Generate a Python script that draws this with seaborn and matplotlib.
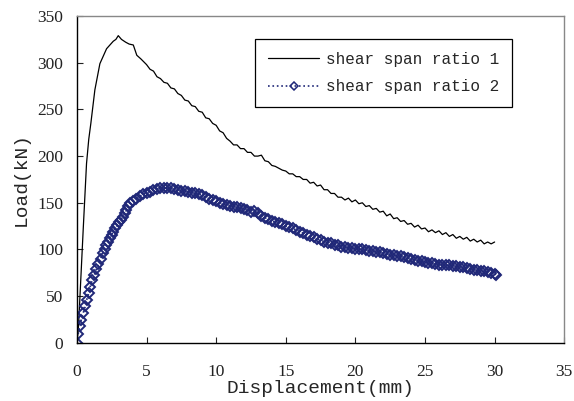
import pandas as pd
import seaborn as sns
from matplotlib import pyplot as plt

# shear span ratio 1 (black solid)
disp_1 = [0, 0.1, 0.22, 0.45, 0.69, 0.85, 1.0, 1.29, 1.65, 2.13, 2.61, 2.8, 2.97, 3.2, 3.5, 3.75,
          4.05, 4.3, 4.6,
          5.0, 5.25, 5.5, 5.75, 6.0, 6.25, 6.5, 6.75, 7.0, 7.25, 7.5, 7.75, 8.0, 8.25, 8.5, 8.75,
          9.0, 9.25, 9.5, 9.75, 10.0, 10.25, 10.5, 10.75, 11.0, 11.25, 11.5, 11.75, 12.0, 12.25,
          12.5, 12.75, 13.0, 13.25, 13.5, 13.75, 14.0, 14.25, 14.5, 14.75, 15.0, 15.25, 15.5, 15.75,
          16.0, 16.25, 16.5, 16.75, 17.0, 17.25, 17.5, 17.75, 18.0, 18.25, 18.5, 18.75, 19.0, 19.25,
          19.5, 19.75, 20.0, 20.25, 20.5, 20.75, 21.0, 21.25, 21.5, 21.75, 22.0, 22.25, 22.5, 22.75,
          23.0, 23.25, 23.5, 23.75, 24.0, 24.25, 24.5, 24.75, 25.0, 25.25, 25.5, 25.75, 26.0, 26.25,
          26.5, 26.75, 27.0, 27.25, 27.5, 27.75, 28.0, 28.25, 28.5, 28.75, 29.0, 29.25, 29.5, 29.75,
          30.0]
load_1 = [0, 14, 50, 121, 192, 218, 235, 271, 299, 315, 323, 325, 329, 325, 322, 320,
          319, 308, 304,
          298, 293, 291, 285, 283, 279, 278, 273, 272, 267, 265, 260, 259, 254, 253, 248,
          247, 241, 240, 235, 233, 227, 225, 219, 216, 212, 212, 208, 208, 204,
          204, 200, 200, 201, 195, 194, 190, 189, 187, 185, 184, 181, 181, 178,
          178, 175, 175, 171, 172, 168, 169, 164, 164, 160, 160, 156, 156, 153,
          155, 151, 153, 149, 150, 146, 147, 143, 144, 140, 141, 136, 138, 133,
          134, 130, 131, 127, 128, 124, 126, 122, 123, 119, 121, 118, 120, 116,
          118, 114, 116, 112, 114, 111, 113, 109, 111, 108, 110, 106, 108, 106,
          108]

# shear span ratio 2 (navy dotted with diamonds)
disp_2 = [0, 0.1, 0.2, 0.3, 0.45, 0.6, 0.7, 0.85, 0.95, 1.1, 1.25, 1.4, 1.55, 1.7, 1.85, 2.0,
          2.1, 2.2, 2.35, 2.5, 2.6, 2.75, 2.9, 3.0, 3.15, 3.3, 3.45, 3.55, 3.65, 3.8,
          4.0, 4.25, 4.5, 4.75, 5.0, 5.25, 5.5, 5.75, 6.0, 6.25, 6.5, 6.75, 7.0, 7.25, 7.5, 7.75,
          8.0, 8.25, 8.5, 8.75, 9.0, 9.25, 9.5, 9.75, 10.0, 10.25, 10.5, 10.75, 11.0, 11.25, 11.5,
          11.75, 12.0, 12.25, 12.5, 12.75, 13.0, 13.25, 13.5, 13.75, 14.0, 14.25, 14.5, 14.75,
          15.0, 15.25, 15.5, 15.75, 16.0, 16.25, 16.5, 16.75, 17.0, 17.25, 17.5, 17.75, 18.0,
          18.25, 18.5, 18.75, 19.0, 19.25, 19.5, 19.75, 20.0, 20.25, 20.5, 20.75, 21.0, 21.25,
          21.5, 21.75, 22.0, 22.25, 22.5, 22.75, 23.0, 23.25, 23.5, 23.75, 24.0, 24.25, 24.5,
          24.75, 25.0, 25.25, 25.5, 25.75, 26.0, 26.25, 26.5, 26.75, 27.0, 27.25, 27.5, 27.75,
          28.0, 28.25, 28.5, 28.75, 29.0, 29.25, 29.5, 29.75, 30.0, 30.1]
load_2 = [0, 10, 18, 24, 32, 39, 46, 53, 60, 67, 73, 79, 84, 90, 96, 101,
          105, 108, 112, 116, 119, 123, 126, 129, 132, 135, 139, 142, 147, 150,
          152, 154, 157, 159, 161, 162, 163.5, 165, 166, 166, 166, 165.5, 165, 164, 163, 162.5,
          162, 161, 160, 159, 158, 156, 154.5, 153, 151.5, 150, 149, 148, 147, 146, 145,
          144, 143, 142, 140, 141, 139, 136, 134, 132.5, 131, 129.5, 128, 127,
          125, 124, 122.5, 121, 119, 117.5, 116, 114, 113, 111, 110, 108.5, 107,
          106.5, 105, 104.5, 103, 103, 102, 101.5, 101, 101, 100, 99, 98.5, 98.5,
          97.5, 97, 96, 95.5, 94.5, 94, 93, 92.5, 91.5, 90.5, 90, 89, 88,
          87.5, 86.5, 85.5, 85, 84, 83.5, 83.5, 83, 83, 82.5, 82, 81.5, 81,
          80, 79.5, 78.5, 78, 77, 76.5, 75.5, 75, 74, 73]

x_ticks = [0, 5, 10, 15, 20, 25, 30, 35]
y_ticks = [0, 50, 100, 150, 200, 250, 300, 350]

NAVY = "#202878"


def main():
    sns.set_style("ticks")
    plt.rcParams["font.family"] = ["Liberation Serif", "DejaVu Serif"]

    df1 = pd.DataFrame({"Displacement": disp_1, "Load": load_1})
    df2 = pd.DataFrame({"Displacement": disp_2, "Load": load_2})

    fig, ax = plt.subplots(figsize=(5.74, 4.01), dpi=100)
    fig.subplots_adjust(left=0.134, right=0.983, bottom=0.145, top=0.960)

    sns.lineplot(df1, x="Displacement", y="Load", color="black", linewidth=0.9,
                 label="shear span ratio 1", ax=ax, sort=False)
    sns.lineplot(df2, x="Displacement", y="Load", color=NAVY, linewidth=1.2, linestyle=":",
                 marker="D", markersize=5.5, markerfacecolor="none", markeredgecolor=NAVY,
                 markeredgewidth=1.4, label="shear span ratio 2", ax=ax, sort=False)

    ax.set_xlim(0, 35)
    ax.set_ylim(0, 350)
    ax.set_xticks(x_ticks)
    ax.set_yticks(y_ticks)
    ax.tick_params(direction="in", length=4, labelsize=12.5, colors="#222222")
    ax.tick_params(axis="x", pad=15)
    ax.tick_params(axis="y", pad=10)

    for side in ["top", "right"]:
        ax.spines[side].set_color("#888888")
    for side in ["left", "bottom"]:
        ax.spines[side].set_color("black")
    for sp in ax.spines.values():
        sp.set_linewidth(1.0)

    ax.set_xlabel("Displacement(mm)", family="Liberation Mono", fontsize=14, labelpad=0)
    ax.set_ylabel("Load(kN)", family="Liberation Mono", fontsize=14, labelpad=5)

    leg = ax.legend(loc="upper left", bbox_to_anchor=(0.366, 0.93), borderaxespad=0,
                    frameon=True, fancybox=False, edgecolor="black", framealpha=1,
                    borderpad=0.8, handlelength=3.2, handletextpad=0.4, labelspacing=0.8,
                    prop={"family": "Liberation Mono", "size": 11.5})
    leg.get_frame().set_linewidth(0.9)
    for h in leg.legend_handles:
        h.set_markersize(4)
        h.set_markeredgewidth(1.1)

    plt.savefig("out.png", dpi=100)
    plt.close()


if __name__ == '__main__':
    main()
